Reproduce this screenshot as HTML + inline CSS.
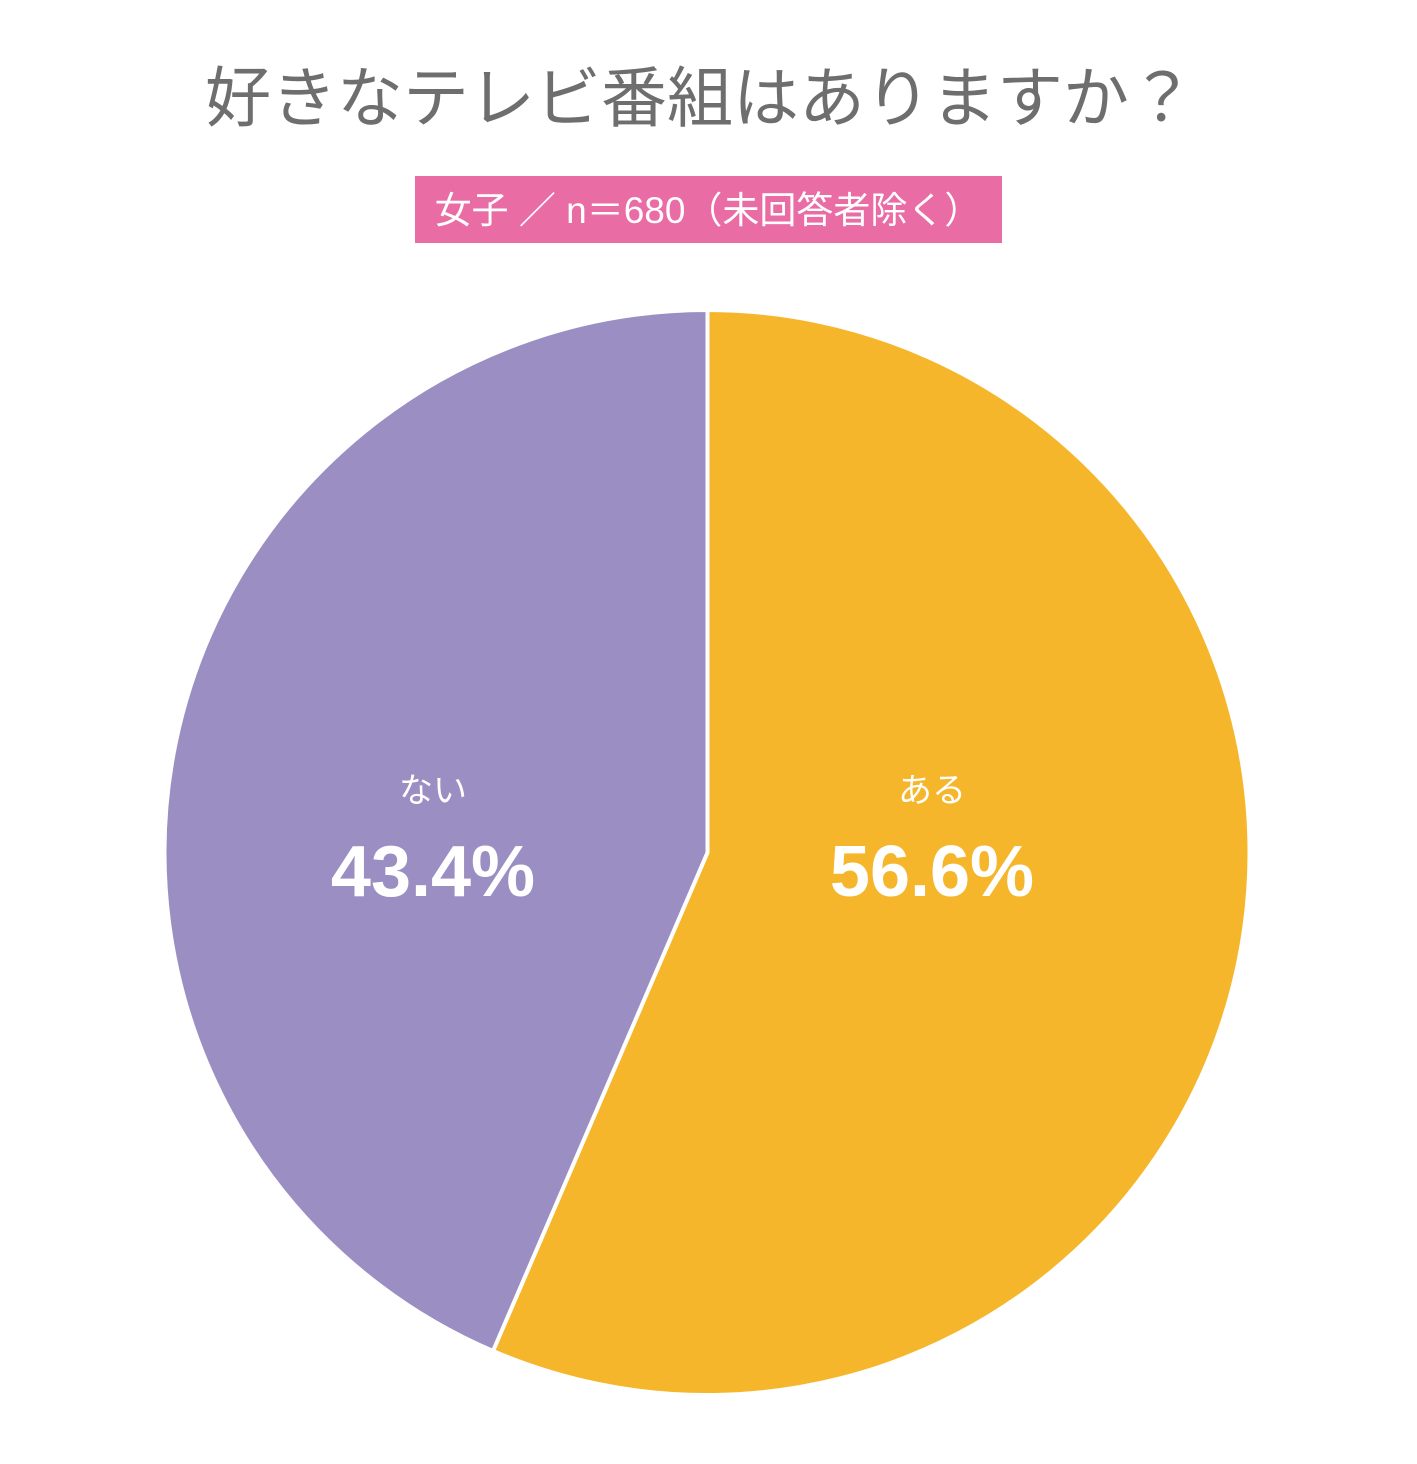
<!DOCTYPE html>
<html><head><meta charset="utf-8"><style>
html,body{margin:0;padding:0;background:#fff;}
body{width:1417px;height:1459px;overflow:hidden;}
text{font-family:"Liberation Sans","Noto Sans CJK JP",sans-serif;}
</style></head><body>
<svg width="1417" height="1459" viewBox="0 0 1417 1459" xmlns="http://www.w3.org/2000/svg">
<rect width="1417" height="1459" fill="#fff"/>
<text x="700" y="121" text-anchor="middle" font-size="66" fill="#6e6e6e">好きなテレビ番組はありますか？</text>
<rect x="415" y="176" width="587" height="67" fill="#ea6ca5"/>
<text x="708" y="223" text-anchor="middle" font-size="37" fill="#fff">女子 ／ n＝680（未回答者除く）</text>
<path d="M707.5,852.5 L707.5,310 A542.5,542.5 0 1,1 493,1351 Z" fill="#f6b62b" stroke="#fff" stroke-width="4"/>
<path d="M707.5,852.5 L493,1351 A542.5,542.5 0 0,1 707.5,310 Z" fill="#9b8ec3" stroke="#fff" stroke-width="4"/>
<text x="433" y="802" text-anchor="middle" font-size="34" fill="#fff">ない</text>
<text x="433" y="896" text-anchor="middle" font-size="72" font-weight="bold" fill="#fff">43.4%</text>
<text x="932" y="802" text-anchor="middle" font-size="34" fill="#fff">ある</text>
<text x="932" y="896" text-anchor="middle" font-size="72" font-weight="bold" fill="#fff">56.6%</text>
</svg>
</body></html>
